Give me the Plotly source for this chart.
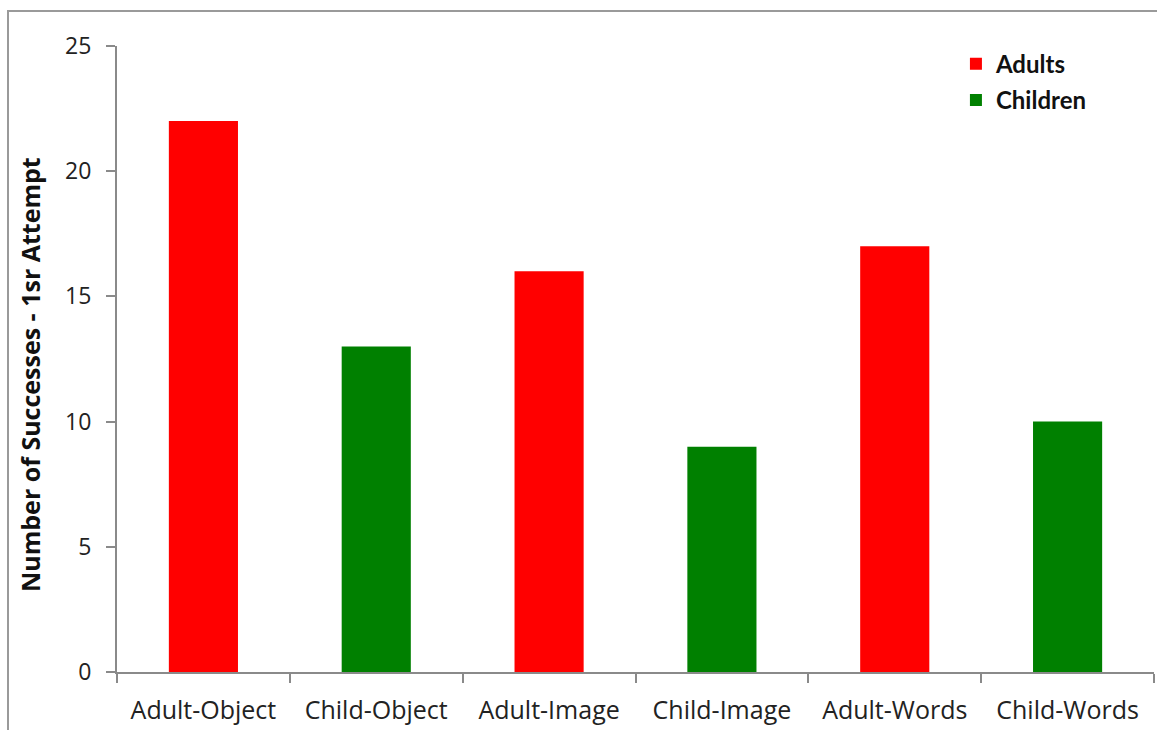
import plotly.graph_objects as go

categories = ["Adult-Object", "Child-Object", "Adult-Image", "Child-Image", "Adult-Words", "Child-Words"]
adult_categories = ["Adult-Object", "Adult-Image", "Adult-Words"]
adult_values = [22, 16, 17]
child_categories = ["Child-Object", "Child-Image", "Child-Words"]
child_values = [13, 9, 10]
y_ticks = [0, 5, 10, 15, 20, 25]

FONT = "'Open Sans', Lato, sans-serif"
AXIS_GRAY = "#8a8a8a"
TEXT = "#222222"

fig = go.Figure()
fig.add_trace(go.Bar(x=adult_categories, y=adult_values, name="Adults", legendgroup="a",
                     marker=dict(color="#ff0000", line=dict(width=0)), width=0.4))
fig.add_trace(go.Bar(x=child_categories, y=child_values, name="Children", legendgroup="c",
                     marker=dict(color="#008000", line=dict(width=0)), width=0.4))

fig.update_layout(
    width=1157, height=730,
    margin=dict(l=117, r=3, t=46, b=58),
    paper_bgcolor="white", plot_bgcolor="white",
    barmode="overlay",
    font=dict(family=FONT, size=22, color=TEXT),
    showlegend=True,
    legend=dict(x=0.809, y=1.007, xanchor="left", yanchor="top",
                bgcolor="rgba(0,0,0,0)", tracegroupgap=2, traceorder="grouped",
                font=dict(family="Lato, sans-serif", size=24, color="#111111", weight="bold")),
    xaxis=dict(
        type="category", categoryorder="array", categoryarray=categories,
        showline=True, linecolor=AXIS_GRAY, linewidth=2,
        ticks="outside", tickson="boundaries", ticklen=9, tickcolor=AXIS_GRAY, tickwidth=2,
        ticklabelstandoff=15,
        showgrid=False, tickfont=dict(family=FONT, size=25, color=TEXT),
    ),
    yaxis=dict(
        range=[0, 25], tickvals=y_ticks,
        showline=True, linecolor=AXIS_GRAY, linewidth=2,
        ticks="outside", ticklen=9, tickcolor=AXIS_GRAY, tickwidth=2,
        ticklabelstandoff=10,
        showgrid=False, zeroline=False,
        tickfont=dict(family=FONT, size=23, color=TEXT),
    ),
)

# y-axis title
fig.add_annotation(text="<b>Number of Successes - 1sr Attempt</b>",
                   xref="paper", yref="paper", x=(30 - 117) / 1037, y=(672 - 375) / 626,
                   xanchor="center", yanchor="middle", textangle=-90, showarrow=False,
                   font=dict(family=FONT, size=25, color="#111111"))

# outer frame around the chart
fig.add_shape(type="rect", xref="paper", yref="paper",
              x0=(8 - 117) / 1037, x1=1.05, y0=-0.3, y1=1 + (46 - 11) / 626,
              line=dict(color="#9a9a9a", width=2), fillcolor="rgba(0,0,0,0)", layer="below")

fig.write_html("out.html")
